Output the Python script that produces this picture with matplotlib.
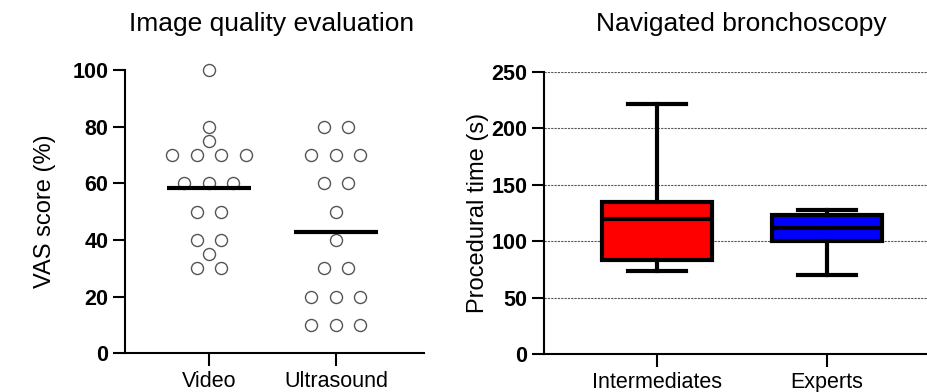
#!/usr/bin/env python3
# -*- coding: utf-8 -*-

import numpy as np
import matplotlib
matplotlib.use('Agg')
import matplotlib.pyplot as plt

plt.rcParams['font.family'] = ['Liberation Sans', 'DejaVu Sans']

# left panel: VAS scores per modality
groups = ['Video', 'Ultrasound']
video_scores = [100, 80, 75, 70, 70, 70, 70, 60, 60, 60, 50, 50, 40, 40, 35, 30, 30]
us_scores = [80, 80, 70, 70, 70, 60, 60, 50, 40, 30, 30, 20, 20, 20, 10, 10, 10]

# right panel: box stats of procedural time (s)
box_labels = ['Intermediates', 'Experts']
box_low = [74, 70]
box_q1 = [83, 100]
box_med = [120, 112]
box_q3 = [135, 123]
box_high = [221, 128]
box_colors = ['#ff0000', '#0000ff']


def swarm_offsets(vals, step):
    """spread equal values side by side around the group centre"""
    vals = np.asarray(vals)
    offs = np.zeros(len(vals))
    for v in np.unique(vals):
        idx = np.where(vals == v)[0]
        offs[idx] = (np.arange(len(idx)) - (len(idx) - 1) / 2) * step
    return offs


def style_axes(ax):
    for side in ['top', 'right']:
        ax.spines[side].set_visible(False)
    for side in ['left', 'bottom']:
        ax.spines[side].set_linewidth(1.5)
    ax.tick_params(axis='both', width=1.5, length=9, direction='out')
    ax.tick_params(axis='y', labelsize=15.5, pad=3)
    ax.tick_params(axis='x', labelsize=15.5, pad=4)
    for lab in ax.get_yticklabels():
        lab.set_fontweight('bold')


fig = plt.figure(figsize=(9.27, 3.92), dpi=100)

# ---- left: scatter with mean lines
ax1 = fig.add_axes([125 / 927, 1 - 353.3 / 392, 299 / 927, 283.3 / 392])
for i, scores in enumerate([video_scores, us_scores]):
    xs = i + swarm_offsets(scores, 0.193)
    ax1.scatter(xs, scores, s=75, facecolor='white', edgecolor='#555555',
                linewidth=1.0, zorder=3, clip_on=False)
    ax1.hlines(np.mean(scores), i - 0.33, i + 0.33, color='black',
               linewidth=3, zorder=4)
ax1.set_xlim(-0.661, 1.693)
ax1.set_ylim(0, 100)
ax1.set_yticks([0, 20, 40, 60, 80, 100])
ax1.set_xticks([0, 1])
ax1.set_xticklabels(groups)
ax1.set_ylabel('VAS score (%)', fontsize=17, labelpad=12)
style_axes(ax1)

# ---- right: box plots
ax2 = fig.add_axes([544 / 927, 1 - 354.3 / 392, 390 / 927, 282.6 / 392])
stats = []
for i in range(len(box_labels)):
    stats.append({'label': box_labels[i], 'whislo': box_low[i], 'q1': box_q1[i],
                  'med': box_med[i], 'q3': box_q3[i], 'whishi': box_high[i]})
lw = 3
bp = ax2.bxp(stats, positions=[0, 1], widths=0.647, capwidths=0.34,
             showfliers=False, patch_artist=True,
             boxprops=dict(linewidth=lw, edgecolor='black'),
             medianprops=dict(linewidth=lw, color='black'),
             whiskerprops=dict(linewidth=lw, color='black'),
             capprops=dict(linewidth=lw, color='black'), zorder=3)
for patch, c in zip(bp['boxes'], box_colors):
    patch.set_facecolor(c)
ax2.set_xlim(-0.665, 1.63)
ax2.set_ylim(0, 250)
ax2.set_yticks([0, 50, 100, 150, 200, 250])
ax2.yaxis.grid(True, linestyle=(0, (2, 1)), color='#555555', linewidth=0.8, zorder=0)
ax2.set_axisbelow(True)
ax2.set_ylabel('Procedural time (s)', fontsize=17, labelpad=2)
style_axes(ax2)

# titles, both on the same baseline
fig.text(272 / 927, 1 - 24 / 392, 'Image quality evaluation', fontsize=19,
         ha='center', va='center')
fig.text(741 / 927, 1 - 24 / 392, 'Navigated bronchoscopy', fontsize=19,
         ha='center', va='center')

fig.savefig('out.png', dpi=100)
